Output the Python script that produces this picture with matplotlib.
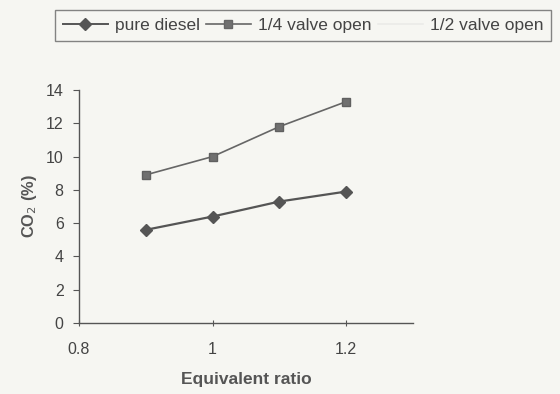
import matplotlib
matplotlib.use("Agg")
import matplotlib.pyplot as plt
from matplotlib.lines import Line2D

plt.rcParams['font.family'] = ['Liberation Sans', 'DejaVu Sans']

x_vals = [0.9, 1.0, 1.1, 1.2]
pure_diesel = [5.6, 6.4, 7.3, 7.9]
quarter_valve = [8.9, 10.0, 11.8, 13.3]
x_ticks = [0.8, 1.0, 1.2]
x_tick_labels = ['0.8', '1', '1.2']
y_ticks = [0, 2, 4, 6, 8, 10, 12, 14]
series_names = ['pure diesel', '1/4 valve open', '1/2 valve open']

bg = '#f6f6f2'
ink = '#555555'

fig = plt.figure(figsize=(5.6, 3.94), dpi=100, facecolor=bg)
ax = fig.add_axes([0.141, 0.180, 0.5965, 0.5916], facecolor=bg)

ax.plot(x_vals, pure_diesel, color=ink, marker='D', markersize=6, linewidth=1.6)
ax.plot(x_vals, quarter_valve, color='#666666', marker='s', markersize=6, linewidth=1.2,
        markerfacecolor='#707070', markeredgecolor='#606060')

ax.set_xlim(0.8, 1.3)
ax.set_ylim(0, 14)
ax.set_xticks(x_ticks)
ax.set_xticklabels(x_tick_labels)
ax.set_yticks(y_ticks)
for s in ['top', 'right']:
    ax.spines[s].set_visible(False)
for s in ['left', 'bottom']:
    ax.spines[s].set_color(ink)
    ax.spines[s].set_linewidth(1.0)
ax.tick_params(axis='y', direction='out', length=4, color=ink, labelcolor='#444444', labelsize=11.5, pad=7)
ax.tick_params(axis='x', direction='inout', length=5, color=ink, labelcolor='#444444', labelsize=11.5, pad=11)

ax.set_xlabel('Equivalent ratio', fontsize=12.5, fontweight='bold', color='#555555', labelpad=11)
ax.set_ylabel('CO$_2$ (%)', fontsize=11.8, fontweight='bold', color='#555555', labelpad=5)

handles = [
    Line2D([], [], color=ink, marker='D', markersize=6, linewidth=1.4),
    Line2D([], [], color='#666666', marker='s', markersize=6, linewidth=1.2, markerfacecolor='#707070'),
    Line2D([], [], color='#ebebe8', linewidth=1.2),
]
leg = fig.legend(handles, series_names, ncol=3, loc='center',
                 bbox_to_anchor=(0.541, 0.935), frameon=True, fancybox=False,
                 edgecolor='#666666', facecolor=bg, fontsize=12.5, handlelength=2.6,
                 columnspacing=0.35, handletextpad=0.4, borderpad=0.45, borderaxespad=0,
                 labelcolor='#444444')
leg.get_frame().set_linewidth(1.0)

fig.savefig('out.png', dpi=100, facecolor=bg)
